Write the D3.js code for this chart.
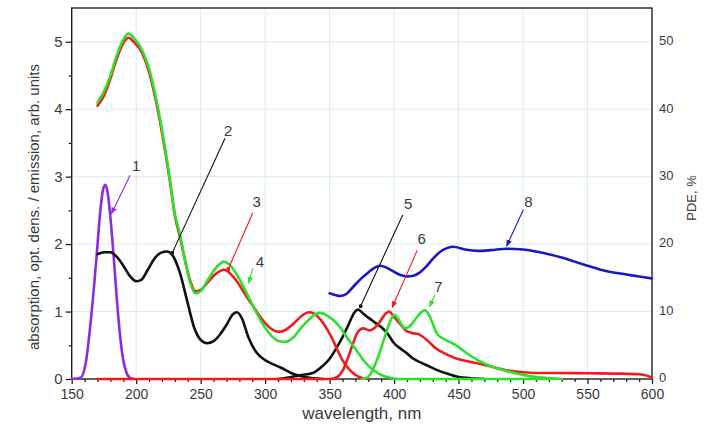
<!DOCTYPE html>
<html>
<head>
<meta charset="utf-8">
<script src="https://cdn.jsdelivr.net/npm/d3@7"></script>
<style>
  html, body { margin: 0; padding: 0; background: #fff; }
  svg { display: block; }
  text { font-family: "Liberation Sans", Arial, sans-serif; fill: #3a3a3a; }
</style>
</head>
<body>
<svg id="chart" width="709" height="429"></svg>
<script>
// Spectra: [wavelength (nm), value]
const curve1 = [[150,0],[157,0.02],[161,0.25],[165,0.9],[169,1.75],[172,2.45],[174,2.78],[176,2.88],[178,2.75],[180,2.4],[183,1.7],[186,0.95],[189,0.4],[192,0.12],[195,0.02],[198,0]];
const curve2 = [[170,1.85],[175,1.88],[180,1.88],[185,1.81],[190,1.68],[195,1.53],[200,1.45],[204,1.47],[209,1.62],[214,1.78],[219,1.87],[224,1.89],[228,1.84],[234,1.57],[240,1.12],[245,0.76],[250,0.58],[255,0.53],[260,0.56],[265,0.66],[270,0.8],[275,0.96],[278,0.99],[282,0.9],[287,0.62],[293,0.4],[300,0.28],[306,0.22],[312,0.17],[320,0.09],[328,0.04],[337,0.01],[345,0]];
const curve3 = [[170,4.05],[175,4.2],[180,4.45],[185,4.75],[190,4.98],[194,5.06],[198,5.0],[205,4.82],[210,4.55],[215,4.15],[220,3.65],[226,2.95],[230,2.42],[234,2.1],[238,1.75],[242,1.45],[246,1.3],[250,1.32],[255,1.42],[260,1.53],[265,1.6],[268,1.62],[272,1.58],[278,1.45],[285,1.24],[292,1.04],[300,0.83],[306,0.73],[311,0.7],[316,0.73],[322,0.82],[328,0.93],[334,0.99],[338,0.97],[343,0.88],[348,0.74],[352,0.6],[356,0.43],[360,0.28],[364,0.17],[368,0.09],[372,0.04],[376,0.01],[380,0]];
const curve4 = [[170,4.1],[175,4.26],[180,4.5],[185,4.8],[190,5.03],[194,5.12],[198,5.06],[205,4.86],[210,4.6],[215,4.2],[220,3.7],[226,2.98],[230,2.45],[234,2.14],[238,1.75],[242,1.42],[246,1.27],[250,1.3],[255,1.45],[260,1.6],[265,1.71],[268,1.74],[272,1.7],[278,1.55],[285,1.3],[292,1.03],[300,0.76],[306,0.62],[311,0.56],[316,0.55],[322,0.62],[328,0.76],[334,0.88],[340,0.97],[343,0.98],[348,0.94],[353,0.87],[358,0.77],[364,0.6],[371,0.42],[377,0.26],[384,0.13],[390,0.06],[397,0.02],[403,0],[525,0]];
const curve5 = [[310,0],[318,0.02],[325,0.05],[337,0.09],[345,0.2],[350,0.3],[355,0.45],[360,0.62],[365,0.82],[369,0.98],[372,1.03],[376,0.97],[380,0.91],[385,0.84],[390,0.77],[395,0.67],[400,0.53],[405,0.45],[410,0.38],[415,0.3],[420,0.25],[428,0.18],[435,0.12],[441,0.08],[450,0.03],[460,0.01],[470,0]];
const curve6 = [[170,0],[350,0],[356,0.03],[360,0.12],[364,0.3],[368,0.52],[372,0.7],[376,0.75],[381,0.72],[385,0.76],[389,0.85],[393,0.96],[396,1.0],[400,0.92],[404,0.83],[409,0.72],[414,0.68],[418,0.67],[422,0.63],[427,0.55],[432,0.46],[438,0.39],[446,0.32],[455,0.27],[465,0.23],[472,0.2],[480,0.16],[490,0.12],[500,0.1],[510,0.09],[525,0.09],[550,0.085],[575,0.08],[590,0.07],[596,0.05],[600,0.02]];
const curve7 = [[375,0],[379,0.02],[383,0.12],[386,0.25],[389,0.4],[392,0.58],[395,0.75],[398,0.9],[400,0.95],[403,0.9],[406,0.8],[409,0.75],[413,0.8],[417,0.9],[421,0.99],[424,1.02],[427,0.95],[430,0.82],[433,0.68],[438,0.6],[443,0.55],[448,0.5],[453,0.43],[458,0.36],[466,0.27],[475,0.19],[485,0.13],[495,0.08],[503,0.05],[512,0.025],[523,0.01],[530,0]];
// PDE, %
const curve8 = [[350,12.7],[355,12.4],[358,12.3],[363,12.6],[368,13.6],[374,14.8],[380,15.8],[385,16.5],[389,16.8],[393,16.6],[398,16.1],[404,15.5],[410,15.2],[415,15.3],[420,15.8],[425,16.7],[430,17.8],[436,18.9],[441,19.4],[446,19.6],[455,19.2],[465,19.0],[475,19.1],[487,19.3],[500,19.2],[510,18.9],[520,18.5],[530,18.0],[540,17.4],[550,16.8],[560,16.2],[570,15.8],[580,15.5],[590,15.2],[600,14.9]];

const xTicks = [150,200,250,300,350,400,450,500,550,600];
const yTicks = [0,1,2,3,4,5];
const pdeTicks = [0,10,20,30,40,50];

// Curve labels: number, text position, leader line start and end (nm, left-axis units)
const labelIds   = ["1","2","3","4","5","6","7","8"];
const labelAt    = [[200,3.17],[271.4,3.69],[293.5,2.63],[296,1.74],[411,2.6],[421.4,2.09],[434.3,1.37],[504.1,2.63]];
const leaderFrom = [[195.3,3.02],[268.9,3.57],[290.4,2.46],[290.4,1.64],[406.7,2.43],[418,1.91],[431.7,1.25],[500.2,2.51]];
const leaderTo   = [[180.8,2.45],[228,1.87],[271.4,1.63],[287.2,1.42],[374,1.08],[398.5,1.06],[427.5,1.07],[487.3,1.97]];
const leaderEnd  = ["arrow","dot","dot","arrow","dot","arrow","arrow","arrow"];

const colors = { c1:"#8b2be6", c2:"#111111", c3:"#ee1c1c", c4:"#2ee02e", c5:"#111111", c6:"#ee1c1c", c7:"#2ee02e", c8:"#1818c8" };
const labelColors = ["#8b2be6","#111111","#ee1c1c","#2ee02e","#111111","#ee1c1c","#2ee02e","#1818c8"];

const svg = d3.select("#chart");
const plotL = 71.7, plotR = 652, plotT = 8, plotB = 379;

const x = d3.scaleLinear().domain([150, 600]).range([plotL, plotR]);
const y = d3.scaleLinear().domain([0, 5.5]).range([plotB, plotT]);
const yP = d3.scaleLinear().domain([0, 55]).range([plotB, plotT]);

// light grid
const grid = svg.append("g").attr("stroke", "#d9ecf1").attr("stroke-width", 1);
grid.selectAll("line.v").data(xTicks.slice(1, -1)).join("line")
  .attr("x1", d => x(d)).attr("x2", d => x(d)).attr("y1", plotT).attr("y2", plotB);
grid.selectAll("line.h").data(yTicks.slice(1)).join("line")
  .attr("x1", plotL).attr("x2", plotR).attr("y1", d => y(d)).attr("y2", d => y(d));

// axes
const xAxis = svg.append("g").attr("transform", `translate(0,${plotB})`)
  .call(d3.axisBottom(x).tickValues(xTicks).tickSize(5).tickPadding(5).tickFormat(d3.format("d")));
const xMinor = svg.append("g").attr("transform", `translate(0,${plotB})`)
  .call(d3.axisBottom(x).tickValues(d3.range(160, 600, 10).filter(v => v % 50)).tickSize(3).tickFormat(""));
const yAxis = svg.append("g").attr("transform", `translate(${plotL},0)`)
  .call(d3.axisLeft(y).tickValues(yTicks).tickSize(6).tickPadding(3).tickFormat(d3.format("d")));
const yMinor = svg.append("g").attr("transform", `translate(${plotL},0)`)
  .call(d3.axisLeft(y).tickValues([0.5,1.5,2.5,3.5,4.5]).tickSize(3).tickFormat(""));
const yRight = svg.append("g").attr("transform", `translate(${plotR},0)`)
  .call(d3.axisRight(yP).tickValues(pdeTicks).tickSize(0).tickPadding(7).tickFormat(d3.format("d")));

[xAxis, xMinor, yAxis, yMinor, yRight].forEach(g => {
  g.select(".domain").remove();
  g.selectAll(".tick line").attr("stroke", "#222").attr("stroke-width", 1.3);
  g.selectAll(".tick text").attr("font-size", 15).attr("fill", "#3a3a3a")
    .style("font-family", "'Liberation Sans', Arial, sans-serif");
});
xAxis.selectAll(".tick text").attr("font-size", 14);
yRight.selectAll(".tick text").attr("font-size", 13).attr("dy", "0.22em");

// frame
svg.append("rect").attr("x", plotL).attr("y", plotT).attr("width", plotR - plotL).attr("height", plotB - plotT)
  .attr("fill", "none").attr("stroke", "#222").attr("stroke-width", 1.4);

// curves
const line = d3.line().x(d => x(d[0])).y(d => y(d[1])).curve(d3.curveMonotoneX);
const lineP = d3.line().x(d => x(d[0])).y(d => yP(d[1])).curve(d3.curveMonotoneX);
const plot = svg.append("g").attr("fill", "none").attr("stroke-width", 2.6)
  .attr("stroke-linejoin", "round").attr("stroke-linecap", "round");
[[curve1, colors.c1], [curve2, colors.c2], [curve5, colors.c5], [curve3, colors.c3], [curve6, colors.c6],
 [curve4, colors.c4], [curve7, colors.c7]].forEach(([data, c]) => {
  plot.append("path").datum(data).attr("d", line).attr("stroke", c);
});
plot.append("path").datum(curve8).attr("d", lineP).attr("stroke", colors.c8);

// leader lines and numbers
const defs = svg.append("defs");
labelColors.forEach((c, i) => {
  defs.append("marker").attr("id", "arr" + i).attr("viewBox", "0 0 10 10")
    .attr("refX", 9).attr("refY", 5).attr("markerWidth", 7).attr("markerHeight", 7)
    .attr("orient", "auto").attr("markerUnits", "userSpaceOnUse")
    .append("path").attr("d", "M0,1 L10,5 L0,9 Z").attr("fill", c);
  defs.append("marker").attr("id", "dot" + i).attr("viewBox", "0 0 10 10")
    .attr("refX", 5).attr("refY", 5).attr("markerWidth", 4).attr("markerHeight", 4)
    .attr("markerUnits", "userSpaceOnUse")
    .append("circle").attr("cx", 5).attr("cy", 5).attr("r", 5).attr("fill", c);
});
const ann = svg.append("g");
labelIds.forEach((id, i) => {
  ann.append("line")
    .attr("x1", x(leaderFrom[i][0])).attr("y1", y(leaderFrom[i][1]))
    .attr("x2", x(leaderTo[i][0])).attr("y2", y(leaderTo[i][1]))
    .attr("stroke", labelColors[i]).attr("stroke-width", 1.1)
    .attr("marker-end", `url(#${leaderEnd[i] === "arrow" ? "arr" : "dot"}${i})`);
  ann.append("text").attr("x", x(labelAt[i][0])).attr("y", y(labelAt[i][1]))
    .attr("text-anchor", "middle").attr("dominant-baseline", "central")
    .attr("font-size", 15).text(id);
});

// axis titles
svg.append("text").attr("x", x(375)).attr("y", 413).attr("text-anchor", "middle")
  .attr("dominant-baseline", "central").attr("font-size", 17).text("wavelength, nm");
svg.append("text").attr("transform", `translate(33,207) rotate(-90)`).attr("text-anchor", "middle")
  .attr("dominant-baseline", "central").attr("font-size", 15)
  .text("absorption, opt. dens. / emission, arb. units");
svg.append("text").attr("transform", `translate(691,198) rotate(-90)`).attr("text-anchor", "middle")
  .attr("dominant-baseline", "central").attr("font-size", 13).text("PDE, %");
</script>
</body>
</html>
